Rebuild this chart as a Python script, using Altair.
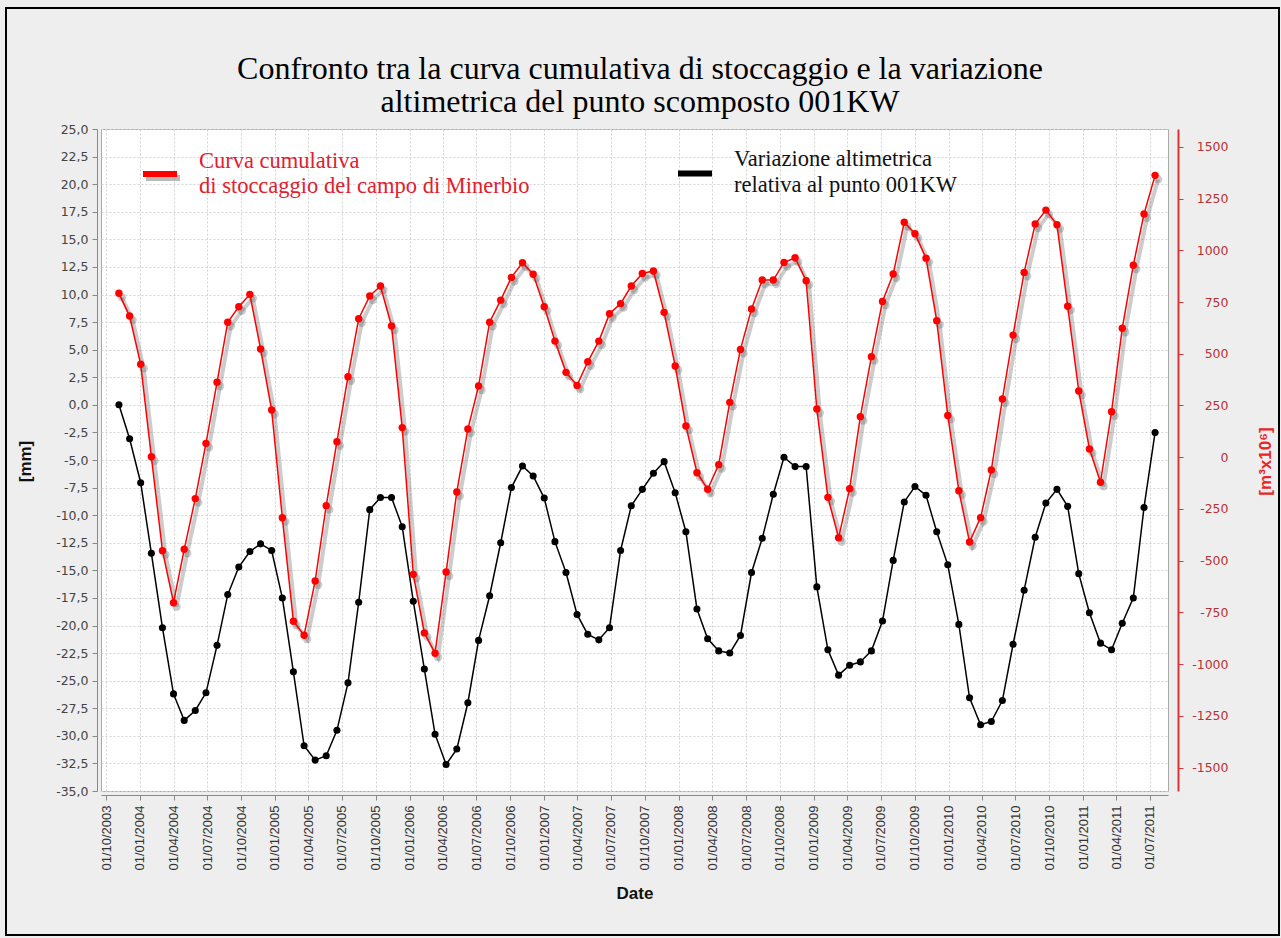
import altair as alt
import pandas as pd

# ---- data ----
dates = [
    "2003-11-05", "2003-12-04", "2004-01-03", "2004-02-01", "2004-03-02", "2004-04-01",
    "2004-04-30", "2004-05-30", "2004-06-28", "2004-07-28", "2004-08-26", "2004-09-25",
    "2004-10-25", "2004-11-23", "2004-12-23", "2005-01-21", "2005-02-20", "2005-03-21",
    "2005-04-20", "2005-05-20", "2005-06-18", "2005-07-18", "2005-08-16", "2005-09-15",
    "2005-10-14", "2005-11-13", "2005-12-12", "2006-01-11", "2006-02-10", "2006-03-11",
    "2006-04-10", "2006-05-09", "2006-06-08", "2006-07-07", "2006-08-06", "2006-09-05",
    "2006-10-04", "2006-11-03", "2006-12-02", "2007-01-01", "2007-01-30", "2007-03-01",
    "2007-03-31", "2007-04-29", "2007-05-29", "2007-06-27", "2007-07-27", "2007-08-25",
    "2007-09-24", "2007-10-24", "2007-11-22", "2007-12-22", "2008-01-20", "2008-02-19",
    "2008-03-19", "2008-04-18", "2008-05-18", "2008-06-16", "2008-07-16", "2008-08-14",
    "2008-09-13", "2008-10-12", "2008-11-11", "2008-12-11", "2009-01-09", "2009-02-08",
    "2009-03-09", "2009-04-08", "2009-05-07", "2009-06-06", "2009-07-06", "2009-08-04",
    "2009-09-03", "2009-10-02", "2009-11-01", "2009-11-30", "2009-12-30", "2010-01-29",
    "2010-02-27", "2010-03-29", "2010-04-27", "2010-05-27", "2010-06-25", "2010-07-25",
    "2010-08-24", "2010-09-22", "2010-10-22", "2010-11-20", "2010-12-20", "2011-01-18",
    "2011-02-17", "2011-03-19", "2011-04-17", "2011-05-17", "2011-06-15", "2011-07-15",
]

# cumulative storage curve (m3 x 10^6), right axis
storage = [
    792, 682, 449, 2, -452, -703, -445, -200, 67, 362,
    652, 727, 787, 523, 228, -292, -793, -860, -598, -234,
    75, 389, 669, 779, 827, 634, 143, -566, -849, -947,
    -555, -168, 136, 344, 652, 759, 869, 940, 884, 727,
    561, 410, 347, 461, 561, 693, 742, 827, 888, 900,
    700, 441, 151, -75, -155, -36, 265, 521, 716, 856,
    856, 941, 964, 853, 233, -194, -389, -152, 196, 486,
    753, 885, 1135, 1080, 962, 660, 202, -162, -410, -292,
    -62, 281, 590, 893, 1127, 1194, 1123, 730, 320, 40,
    -121, 220, 623, 928, 1175, 1362,
]

# vertical displacement of point 001KW (mm), left axis
displacement = [
    0.0, -3.07, -7.06, -13.46, -20.2, -26.2, -28.6, -27.7, -26.1, -21.8,
    -17.2, -14.7, -13.3, -12.6, -13.2, -17.5, -24.2, -30.9, -32.2, -31.8,
    -29.5, -25.2, -17.9, -9.5, -8.4, -8.4, -11.05, -17.8, -23.95, -29.85,
    -32.6, -31.2, -27.0, -21.35, -17.3, -12.5, -7.5, -5.55, -6.45, -8.45,
    -12.4, -15.2, -19.0, -20.8, -21.3, -20.2, -13.2, -9.15, -7.66, -6.2,
    -5.15, -7.97, -11.5, -18.5, -21.2, -22.3, -22.5, -20.9, -15.2, -12.1,
    -8.1, -4.75, -5.6, -5.6, -16.5, -22.2, -24.5, -23.6, -23.3, -22.3,
    -19.6, -14.1, -8.8, -7.4, -8.2, -11.5, -14.5, -19.9, -26.55, -29.0,
    -28.7, -26.8, -21.7, -16.8, -12.0, -8.9, -7.66, -9.2, -15.3, -18.85,
    -21.6, -22.2, -19.8, -17.5, -9.3, -2.5,
]

x_ticks = [
    "2003-10-01", "2004-01-01", "2004-04-01", "2004-07-01", "2004-10-01",
    "2005-01-01", "2005-04-01", "2005-07-01", "2005-10-01",
    "2006-01-01", "2006-04-01", "2006-07-01", "2006-10-01",
    "2007-01-01", "2007-04-01", "2007-07-01", "2007-10-01",
    "2008-01-01", "2008-04-01", "2008-07-01", "2008-10-01",
    "2009-01-01", "2009-04-01", "2009-07-01", "2009-10-01",
    "2010-01-01", "2010-04-01", "2010-07-01", "2010-10-01",
    "2011-01-01", "2011-04-01", "2011-07-01",
]
left_ticks = [-35.0, -32.5, -30.0, -27.5, -25.0, -22.5, -20.0, -17.5, -15.0, -12.5, -10.0,
              -7.5, -5.0, -2.5, 0.0, 2.5, 5.0, 7.5, 10.0, 12.5, 15.0, 17.5, 20.0, 22.5, 25.0]
right_ticks = [-1500, -1250, -1000, -750, -500, -250, 0, 250, 500, 750, 1000, 1250, 1500]

title_lines = ["Confronto tra la curva cumulativa di stoccaggio e la variazione",
               "altimetrica del punto scomposto 001KW"]
legend_red = ["Curva cumulativa", "di stoccaggio del campo di Minerbio"]
legend_black = ["Variazione altimetrica", "relativa al punto 001KW"]

df = pd.DataFrame({"date": dates, "storage": storage, "disp": displacement})
one = pd.DataFrame({"k": [0]})


def dt(s, hours=0):
    return alt.DateTime(year=int(s[:4]), month=int(s[5:7]), date=int(s[8:10]), hours=hours, utc=True)


RED = "#FF0000"
AXIS_RED = "#D83434"

x_enc = alt.X(
    "date:T",
    scale=alt.Scale(type="utc", domain=[dt("2003-09-17", 10), dt("2011-08-19")]),
    axis=alt.Axis(
        values=[dt(s) for s in x_ticks],
        labelExpr="utcFormat(datum.value, '%d/%m/%Y')",
        labelAngle=270, labelFont="Liberation Sans", labelFontSize=13, labelColor="#333333",
        labelPadding=5, tickSize=5, tickColor="#888888", domainColor="#888888", offset=4,
        grid=True, gridDash=[2, 2], gridColor="#d2d2d2", labelOverlap=False,
        title="Date", titleFont="Liberation Sans", titleFontSize=17, titleFontWeight="bold",
        titleColor="#111111", titleY=98, titleBaseline="middle",
    ),
)

y_left = alt.Y(
    "disp:Q",
    scale=alt.Scale(domain=[-35, 25], nice=False, zero=False),
    axis=alt.Axis(
        orient="left", values=left_ticks,
        labelExpr="replace(replace(format(datum.value, '.1f'), '.', ','), '\u2212', '-')",
        labelFont="DejaVu Sans", labelFontSize=12.5, labelColor="#444444", labelPadding=4,
        tickSize=5, tickColor="#888888", domainColor="#888888", offset=4,
        grid=True, gridDash=[2, 2], gridColor="#d2d2d2", labelOverlap=False,
        title="[mm]", titleFont="Liberation Sans", titleFontSize=17, titleFontWeight="bold",
        titleColor="#111111", titleAngle=270, titleX=-72, titleY=332,
        titleAlign="center", titleBaseline="middle",
    ),
)

y_right = alt.Y(
    "storage:Q",
    scale=alt.Scale(domain=[-1613, 1586], nice=False, zero=False),
    axis=alt.Axis(
        orient="right", values=right_ticks,
        labelExpr="replace(format(datum.value, 'd'), '\u2212', '-')",
        labelFont="DejaVu Sans", labelFontSize=12.5, labelColor="#B83434",
        labelAlign="right", labelPadding=45, labelOverlap=False,
        tickSize=5, tickColor=AXIS_RED, domainColor=AXIS_RED, domainWidth=2, offset=10,
        grid=False,
        title="[m\u00b3x10\u2076]", titleFont="Liberation Sans", titleFontSize=17,
        titleFontWeight="bold", titleColor="#E82626", titleAngle=270,
        titleX=87, titleY=332, titleAlign="center", titleBaseline="middle",
    ),
)

base = alt.Chart(df)

black_layer = alt.layer(
    base.mark_line(color="#000000", strokeWidth=1.5).encode(x=x_enc, y=y_left),
    base.mark_circle(color="#000000", size=50, opacity=1).encode(x=x_enc, y=y_left),
)

red_layer = alt.layer(
    base.mark_line(color="#555555", opacity=0.3, strokeWidth=4, xOffset=3, yOffset=4).encode(x=x_enc, y=y_right),
    base.mark_circle(color="#555555", opacity=0.3, size=70, xOffset=3, yOffset=4).encode(x=x_enc, y=y_right),
    base.mark_line(color=RED, strokeWidth=1.5).encode(x=x_enc, y=y_right),
    base.mark_circle(color=RED, size=55, opacity=1).encode(x=x_enc, y=y_right),
)

ann = alt.Chart(one)
annotations = alt.layer(
    # chart title (two lines)
    ann.mark_text(align="center", baseline="alphabetic", font="Liberation Serif", fontSize=32,
                  lineHeight=33, color="#000000").encode(
        x=alt.value(539), y=alt.value(-50), text=alt.value(title_lines)),
    # legend: red swatch with shadow
    ann.mark_rule(color="#666666", opacity=0.45, strokeWidth=6).encode(
        x=alt.value(45), x2=alt.value(79), y=alt.value(49)),
    ann.mark_rule(color=RED, strokeWidth=6).encode(
        x=alt.value(42), x2=alt.value(76), y=alt.value(45)),
    ann.mark_text(align="left", baseline="alphabetic", font="Liberation Serif", fontSize=22.5,
                  lineHeight=25, color="#E0202E").encode(
        x=alt.value(98), y=alt.value(39), text=alt.value(legend_red)),
    # legend: black swatch
    ann.mark_rule(color="#000000", strokeWidth=6).encode(
        x=alt.value(577), x2=alt.value(611), y=alt.value(44.5)),
    ann.mark_text(align="left", baseline="alphabetic", font="Liberation Serif", fontSize=22.5,
                  lineHeight=26, color="#111111").encode(
        x=alt.value(633), y=alt.value(37), text=alt.value(legend_black)),
    # outer frame
    ann.mark_rect(fillOpacity=0, stroke="#000000", strokeWidth=2).encode(
        x=alt.value(-95), x2=alt.value(1178), y=alt.value(-121), y2=alt.value(806)),
)

chart = alt.layer(black_layer, red_layer, annotations).resolve_scale(
    y="independent"
).properties(
    width=1067,
    height=662,
    autosize=alt.AutoSizeParams(type="none"),
    padding={"left": 101, "top": 129, "right": 113, "bottom": 147},
    background="#EEEEEE",
).configure_view(
    fill="#FFFFFF", stroke="#AAAAAA", strokeWidth=1,
)

chart.save("out.html", embed_options={"renderer": "svg", "actions": False})
